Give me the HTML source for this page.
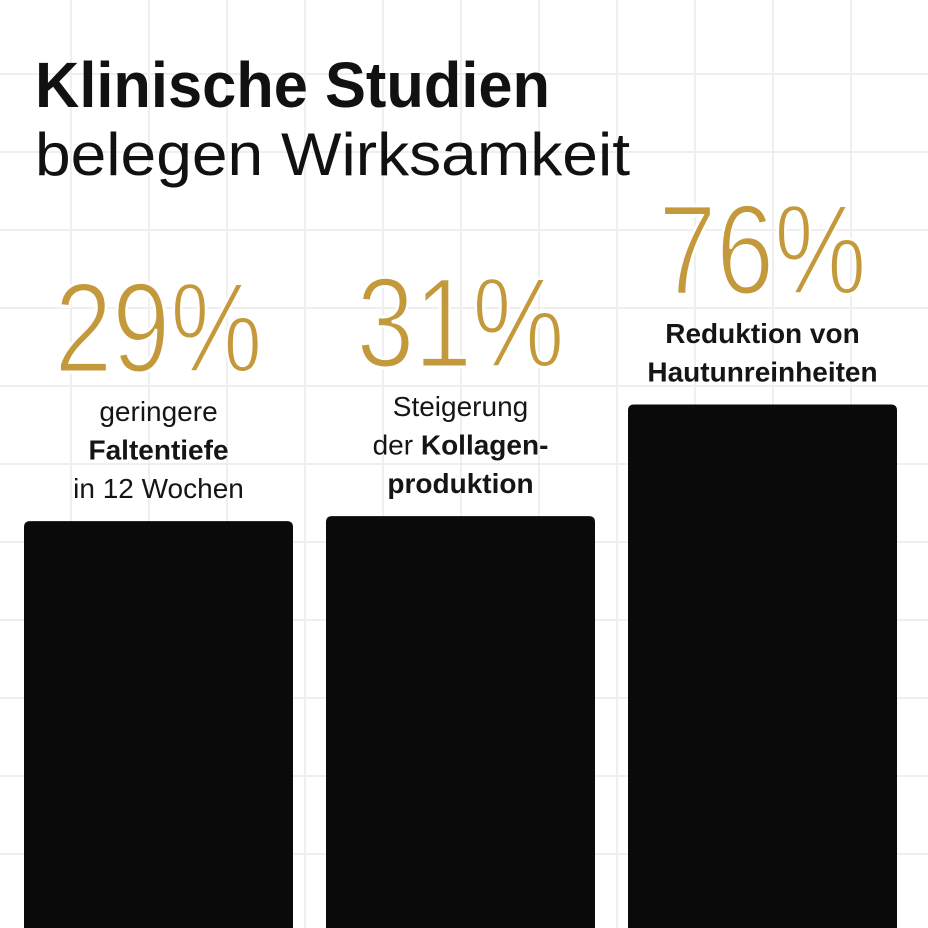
<!DOCTYPE html>
<html><head><meta charset="utf-8"><style>
html,body{margin:0;padding:0;background:#fff;width:928px;height:928px;overflow:hidden}
svg{display:block;font-family:"Liberation Sans",sans-serif}
</style></head><body>
<svg id="chart" width="928" height="928" viewBox="0 0 928 928" xmlns="http://www.w3.org/2000/svg">
<rect width="928" height="928" fill="#fff"/>
<g id="grid"></g>
<text x="35" y="107" font-size="64" font-weight="bold" fill="#111" textLength="515" lengthAdjust="spacingAndGlyphs">Klinische Studien</text>
<text x="35" y="175" font-size="60" fill="#111" textLength="595" lengthAdjust="spacingAndGlyphs">belegen Wirksamkeit</text>
<g id="bars"></g>
</svg>
<script>
const categories = ["Faltentiefe", "Kollagenproduktion", "Hautunreinheiten"];
const values = [29, 31, 76];
const valueLabels = ["29%", "31%", "76%"];
const descLines = [
  [["geringere", false], ["Faltentiefe", true], ["in 12 Wochen", false]],
  [["Steigerung", false], ["der |Kollagen-", "mixed"], ["produktion", true]],
  [["Reduktion von", true], ["Hautunreinheiten", true]]
];

const NS = "http://www.w3.org/2000/svg";
const grid = document.getElementById("grid");
const barsG = document.getElementById("bars");
const H = 928;
function xBand(i){ return 24 + i * 302; }
const bandW = 269;
function yScale(v){ return H - (335 + 2.48 * v); }

for (let x = 71; x < 928; x += 78) {
  const l = document.createElementNS(NS, "line");
  
  
  l.setAttribute("x1", x); l.setAttribute("x2", x); l.setAttribute("y1", 0); l.setAttribute("y2", 928);
  l.setAttribute("stroke", "#efefef"); l.setAttribute("stroke-width", "2");
  grid.appendChild(l);
}
for (let y = 74; y < 928; y += 78) {
  const l = document.createElementNS(NS, "line");
  
  
  l.setAttribute("x1", 0); l.setAttribute("x2", 928); l.setAttribute("y1", y); l.setAttribute("y2", y);
  l.setAttribute("stroke", "#efefef"); l.setAttribute("stroke-width", "2");
  grid.appendChild(l);
}

values.forEach((v, i) => {
  const x = xBand(i), top = yScale(v), cx = x + bandW / 2;
  const r = document.createElementNS(NS, "path");
  
  
  const rad = 6;
  r.setAttribute("d", `M${x},${H+10} V${top+rad} Q${x},${top} ${x+rad},${top} H${x+bandW-rad} Q${x+bandW},${top} ${x+bandW},${top+rad} V${H+10} Z`);
  r.setAttribute("fill", "#0a0a0a");
  barsG.appendChild(r);

  const lines = descLines[i];
  const n = lines.length;
  const lastBase = top - 23;
  const firstBase = lastBase - (n - 1) * 38.5;
  lines.forEach((ln, j) => {
    const t = document.createElementNS(NS, "text");
    
    
    t.setAttribute("x", cx); t.setAttribute("y", firstBase + j * 38.5);
    t.setAttribute("text-anchor", "middle");
    t.setAttribute("font-size", "28"); t.setAttribute("fill", "#151515");
    if (ln[1] === "mixed") {
      const parts = ln[0].split("|");
      const a = document.createElementNS(NS, "tspan"); a.textContent = parts[0];
      const b = document.createElementNS(NS, "tspan"); b.textContent = parts[1]; b.setAttribute("font-weight", "bold");
      t.appendChild(a); t.appendChild(b);
    } else {
      t.textContent = ln[0];
      if (ln[1]) t.setAttribute("font-weight", "bold");
    }
    barsG.appendChild(t);
  });

  const p = document.createElementNS(NS, "text");
  
  
  p.setAttribute("x", cx); p.setAttribute("y", firstBase - 49);
  p.setAttribute("text-anchor", "middle");
  p.setAttribute("font-size", "128"); p.setAttribute("fill", "#c4993c");
  p.setAttribute("stroke", "#ffffff"); p.setAttribute("stroke-width", "3");
  p.setAttribute("textLength", "208"); p.setAttribute("lengthAdjust", "spacingAndGlyphs");
  p.textContent = valueLabels[i];
  barsG.appendChild(p);
});
</script>
</body></html>
